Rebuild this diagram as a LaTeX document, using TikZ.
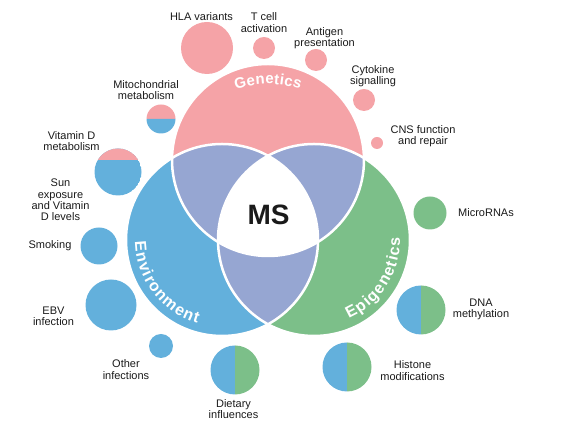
\documentclass[tikz,border=0pt]{standalone}
\usepackage{fontspec}
\setmainfont{Liberation Sans}
\definecolor{pinkc}{RGB}{245,163,167}
\definecolor{bluec}{RGB}{99,176,220}
\definecolor{greenc}{RGB}{124,191,137}
\definecolor{lavc}{RGB}{150,166,210}
\definecolor{txt}{RGB}{26,26,26}
\newcommand{\bigR}{96pt}
\newcommand{\vsplitdot}[2]{%
  \fill[bluec] (#1) ++(0,#2) arc[start angle=90,end angle=270,radius=#2] -- cycle;
  \fill[greenc] (#1) ++(0,-#2) arc[start angle=-90,end angle=90,radius=#2] -- cycle;}
\begin{document}
\begin{tikzpicture}[x=1pt,y=1pt,
  lbl/.style={font=\fontsize{11}{11.3}\selectfont, align=center, text=txt, inner sep=0pt},
  dot/.style={circle, inner sep=0pt, draw=none},
  arcletter/.style={font=\bfseries\fontsize{16}{16}\selectfont, text=white, inner sep=0pt, anchor=base},
  genletter/.style={arcletter, font=\bfseries\fontsize{15}{15}\selectfont},
  ring/.style={draw=white, line width=2.5pt}]
\useasboundingbox (0,0) rectangle (562,427);
\coordinate (G) at (268,267);
\coordinate (V) at (222,187);
\coordinate (P) at (314,187);
% big circles
\fill[pinkc] (G) circle[radius=\bigR];
\fill[bluec] (V) circle[radius=\bigR];
\fill[greenc] (P) circle[radius=\bigR];
\begin{scope}
  \clip (G) circle[radius=\bigR];
  \fill[lavc] (V) circle[radius=\bigR];
  \fill[lavc] (P) circle[radius=\bigR];
\end{scope}
\begin{scope}
  \clip (V) circle[radius=\bigR];
  \fill[lavc] (P) circle[radius=\bigR];
\end{scope}
\begin{scope}
  \clip (G) circle[radius=\bigR];
  \clip (V) circle[radius=\bigR];
  \fill[white] (P) circle[radius=\bigR];
\end{scope}
\draw[ring] (G) circle[radius=\bigR];
\draw[ring] (V) circle[radius=\bigR];
\draw[ring] (P) circle[radius=\bigR];
% circle titles
\foreach \ch/\a [count=\k] in {G/105.42, e/99.51, n/94.32, e/89.14, t/85.14, i/82.34, c/78.59, s/73.64}
  \node[genletter, rotate=\a-90] (gen\k) at ([shift={(\a:100pt)}]268,243) {\ch};
\foreach \ch/\a [count=\k] in {E/184.75, n/192.28, v/199.22, i/204.41, r/208.71, o/214.77, n/222.00, m/230.69, e/239.10, n/246.04, t/251.81}
  \node[arcletter, rotate=\a+90] (env\k) at ([shift={(\a:87pt)}]222,187) {\ch};
\foreach \ch/\a [count=\k] in {E/297.45, p/305.07, i/310.61, g/316.15, e/323.17, n/330.19, e/337.21, t/342.75, i/346.81, c/352.06, s/358.78}
  \node[arcletter, rotate=\a+90] (epi\k) at ([shift={(\a:86pt)}]314,187) {\ch};
\node[font=\bfseries\fontsize{28}{28}\selectfont, text=txt, inner sep=0pt] (ms) at (268.5,212) {MS};
% satellite circles
\node[dot, fill=pinkc, minimum size=52pt] (hla) at (207,379) {};
\node[dot, fill=pinkc, minimum size=22pt] (tcell) at (264,379) {};
\node[dot, fill=pinkc, minimum size=22pt] (antigen) at (316,367) {};
\node[dot, fill=pinkc, minimum size=22pt] (cyto) at (364,327) {};
\node[dot, fill=pinkc, minimum size=12pt] (cns) at (377,284) {};
\fill[pinkc] (161,308) ++(14.5pt,0) arc[start angle=0,end angle=180,radius=14.5pt] -- cycle;
\fill[bluec] (161,308) ++(-14.5pt,0) arc[start angle=180,end angle=360,radius=14.5pt] -- cycle;
\begin{scope}
  \clip (118,255) circle[radius=23.5pt];
  \fill[bluec] (118,255) circle[radius=23.5pt];
  \fill[pinkc] (90,267) rectangle (146,282);
\end{scope}
\node[dot, fill=bluec, minimum size=37pt] (smoke) at (99,181) {};
\node[dot, fill=bluec, minimum size=51pt] (ebv) at (111,122) {};
\node[dot, fill=bluec, minimum size=24pt] (other) at (161,81) {};
\vsplitdot{235,57}{24.5pt}
\node[dot, fill=greenc, minimum size=33pt] (mirna) at (430,214) {};
\vsplitdot{421,117}{24.5pt}
\vsplitdot{347,60}{24.5pt}
% labels
\node[lbl] (lhla) at (201.5,410) {HLA variants};
\node[lbl] (ltcell) at (264,404.5) {T cell\\activation};
\node[lbl] (lantigen) at (324.5,388.5) {Antigen\\presentation};
\node[lbl] (lcyto) at (373,350.5) {Cytokine\\signalling};
\node[lbl] (lcns) at (423,290.5) {CNS function\\and repair};
\node[lbl] (lmito) at (146,336.7) {Mitochondrial\\metabolism};
\node[lbl] (lvitd) at (71.5,285.7) {Vitamin D\\metabolism};
\node[lbl] (lsun) at (60.5,227) {Sun\\exposure\\and Vitamin\\D levels};
\node[lbl] (lsmoke) at (50,181) {Smoking};
\node[lbl] (lebv) at (53.5,110.5) {EBV\\infection};
\node[lbl] (lother) at (126,57.5) {Other\\infections};
\node[lbl] (ldiet) at (233.5,18) {Dietary\\influences};
\node[lbl] (lmirna) at (486,214) {MicroRNAs};
\node[lbl] (ldna) at (481,117.5) {DNA\\methylation};
\node[lbl] (lhist) at (412.5,56.5) {Histone\\modifications};
\end{tikzpicture}
\end{document}
